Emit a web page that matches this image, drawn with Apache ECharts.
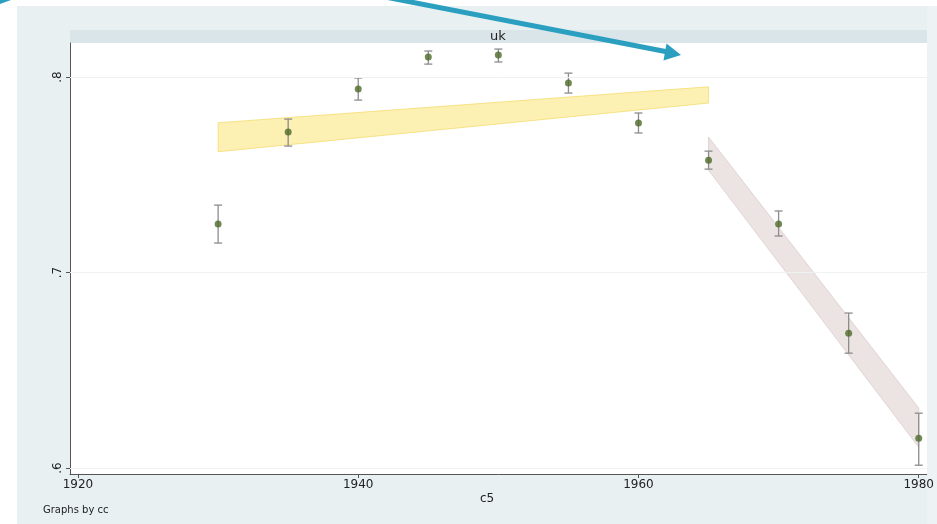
<!DOCTYPE html>
<html>
<head>
<meta charset="utf-8">
<script src="https://cdn.jsdelivr.net/npm/echarts@6/dist/echarts.min.js"></script>
<style>
html,body{margin:0;padding:0;background:#ffffff;}
#chart{width:937px;height:524px;}
</style>
</head>
<body>
<div id="chart"></div>
<script>
// ---- data ----
const panelTitle = 'uk';
const xName = 'c5';
const noteText = 'Graphs by cc';
const xTicks = [1920, 1940, 1960, 1980];
const yTicks = [0.6, 0.7, 0.8];
const yTickLabels = ['.6', '.7', '.8'];
const years = [1930, 1935, 1940, 1945, 1950, 1955, 1960, 1965, 1970, 1975, 1980];
const means = [0.7248, 0.7719, 0.7939, 0.8102, 0.8113, 0.7969, 0.7765, 0.7575, 0.7248, 0.6690, 0.6153];
const ciLow = [0.7151, 0.7647, 0.7882, 0.8066, 0.8077, 0.7918, 0.7714, 0.7529, 0.7187, 0.6588, 0.6015];
const ciHigh = [0.7345, 0.7785, 0.7995, 0.8133, 0.8143, 0.8020, 0.7816, 0.7621, 0.7315, 0.6793, 0.6281];
const fit1X = [1930, 1965];
const fit1Upper = [0.7766, 0.7950];
const fit1Lower = [0.7618, 0.7867];
const fit2X = [1965, 1980];
const fit2Upper = [0.7693, 0.6307];
const fit2Lower = [0.7524, 0.6107];

const chart = echarts.init(document.getElementById('chart'), null, {renderer: 'canvas'});
const FONT = 'DejaVu Sans';

function bandSeries(xs, up, lo, fill, stroke) {
  const data = xs.map((x, i) => [x, up[i], lo[i]]);
  return {
    type: 'custom',
    silent: true,
    z: 1,
    data: data,
    encode: {x: 0, y: [1, 2]},
    renderItem: function (params, api) {
      if (params.dataIndex !== 0) return null;
      const pts = [];
      for (let i = 0; i < data.length; i++) pts.push(api.coord([data[i][0], data[i][1]]));
      for (let i = data.length - 1; i >= 0; i--) pts.push(api.coord([data[i][0], data[i][2]]));
      return {
        type: 'polygon',
        shape: {points: pts},
        style: {fill: fill, stroke: stroke, lineWidth: 1}
      };
    }
  };
}

const option = {
  backgroundColor: 'transparent',
  animation: false,
  grid: {left: 70, right: 10, top: 43, bottom: 50, containLabel: false},
  xAxis: {
    type: 'value',
    min: 1919.43,
    max: 1980.57,
    axisLine: {show: true, onZero: false, lineStyle: {color: '#555555', width: 1}},
    axisTick: {show: true, length: 4, customValues: xTicks, lineStyle: {color: '#555555'}},
    axisLabel: {customValues: xTicks, color: '#222222', fontFamily: FONT, fontSize: 12, margin: 5,
      formatter: v => String(Math.round(v))},
    splitLine: {show: false}
  },
  yAxis: {
    type: 'value',
    min: 0.597,
    max: 0.8174,
    axisLine: {show: true, onZero: false, lineStyle: {color: '#555555', width: 1}},
    axisTick: {show: true, length: 4, customValues: yTicks, lineStyle: {color: '#555555'}},
    axisLabel: {customValues: yTicks, rotate: 90, color: '#222222', fontFamily: FONT, fontSize: 12, margin: 6,
      formatter: v => { const i = yTicks.findIndex(t => Math.abs(t - v) < 1e-6); return i >= 0 ? yTickLabels[i] : ''; }},
    splitLine: {show: false}
  },
  graphic: [
    {type: 'rect', z: -10, silent: true, shape: {x: 17, y: 6, width: 920, height: 518}, style: {fill: '#e8f0f2'}},
    {type: 'rect', z: -9, silent: true, shape: {x: 927, y: 6, width: 10, height: 518}, style: {fill: '#edf3f5'}},
    {type: 'rect', z: -8, silent: true, shape: {x: 70, y: 43, width: 857, height: 431}, style: {fill: '#ffffff'}},
    {type: 'rect', z: -8, silent: true, shape: {x: 70, y: 30, width: 857, height: 13}, style: {fill: '#dae5ea'}},
    {type: 'text', z: 5, silent: true, x: 498, y: 36.5, style: {text: panelTitle, fill: '#222222', font: '13px "DejaVu Sans"', align: 'center', verticalAlign: 'middle'}},
    {type: 'text', z: 5, silent: true, x: 487, y: 499, style: {text: xName, fill: '#222222', font: '12px "DejaVu Sans"', align: 'center', verticalAlign: 'middle'}},
    {type: 'text', z: 5, silent: true, x: 43, y: 510, style: {text: noteText, fill: '#222222', font: '10px "DejaVu Sans"', align: 'left', verticalAlign: 'middle'}},
    {type: 'line', z: 50, silent: true, shape: {x1: 380, y1: -4, x2: 668, y2: 52}, style: {stroke: '#2b9fc0', lineWidth: 5}},
    {type: 'polygon', z: 50, silent: true, shape: {points: [[681, 55], [666.5, 43.5], [663.5, 60.5]]}, style: {fill: '#2b9fc0'}},
    {type: 'polygon', z: 50, silent: true, shape: {points: [[0, 0], [11, 0], [0, 4]]}, style: {fill: '#2b9fc0'}}
  ],
  series: [
    {
      type: 'line', silent: true, data: [], z: 0,
      markLine: {
        silent: true, symbol: ['none', 'none'], label: {show: false},
        lineStyle: {color: '#eef2f3', width: 1, type: 'solid'},
        data: yTicks.map(v => ({yAxis: v}))
      }
    },
    bandSeries(fit1X, fit1Upper, fit1Lower, 'rgba(252,236,160,0.8)', 'rgba(245,222,120,0.85)'),
    bandSeries(fit2X, fit2Upper, fit2Lower, 'rgba(230,218,218,0.75)', 'rgba(220,205,205,0.8)'),
    {
      type: 'custom',
      silent: true,
      z: 3,
      data: years.map((y, i) => [y, ciLow[i], ciHigh[i]]),
      encode: {x: 0, y: [1, 2]},
      renderItem: function (params, api) {
        const lo = api.coord([api.value(0), api.value(1)]);
        const hi = api.coord([api.value(0), api.value(2)]);
        const hw = 4;
        const st = {stroke: '#8c8c8c', lineWidth: 1.3};
        return {
          type: 'group',
          children: [
            {type: 'line', shape: {x1: lo[0], y1: lo[1], x2: hi[0], y2: hi[1]}, style: st},
            {type: 'line', shape: {x1: lo[0] - hw, y1: lo[1], x2: lo[0] + hw, y2: lo[1]}, style: st},
            {type: 'line', shape: {x1: hi[0] - hw, y1: hi[1], x2: hi[0] + hw, y2: hi[1]}, style: st}
          ]
        };
      }
    },
    {
      type: 'scatter',
      silent: true,
      z: 4,
      symbol: 'circle',
      symbolSize: 7,
      itemStyle: {color: '#4e6a2a'},
      data: years.map((y, i) => [y, means[i]])
    }
  ]
};
chart.setOption(option);
</script>
</body>
</html>
